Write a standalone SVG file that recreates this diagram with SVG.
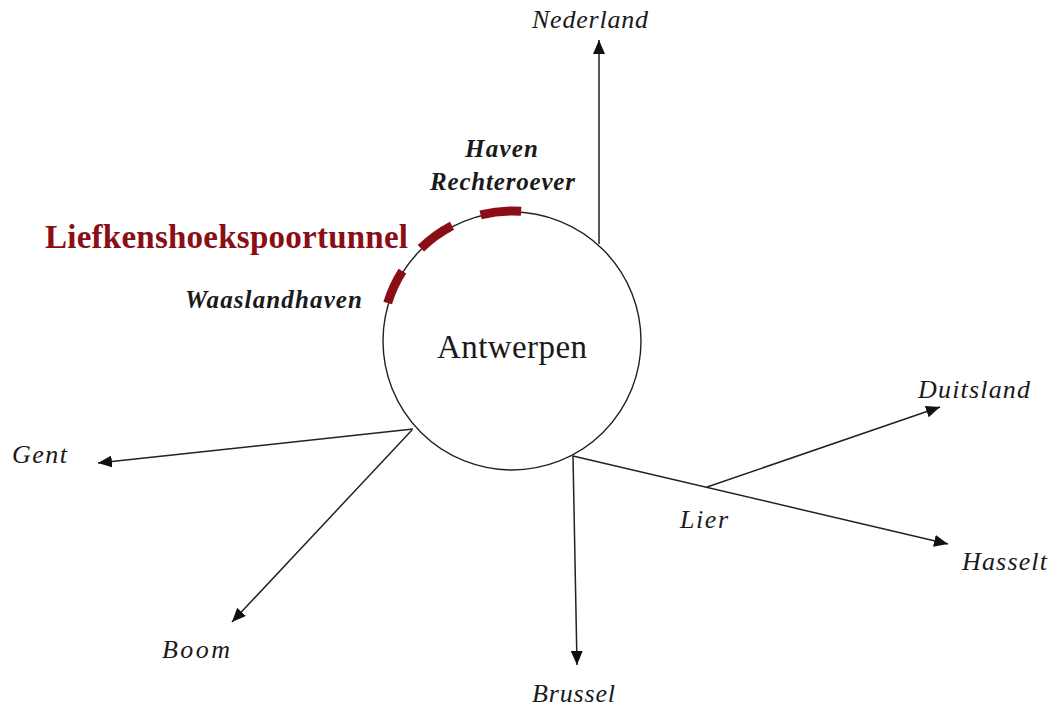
<svg xmlns="http://www.w3.org/2000/svg" width="1055" height="707" viewBox="0 0 1055 707">
<style>
.lbl{font-family:"Liberation Serif","Times New Roman",serif;font-style:italic;font-size:26px;fill:#1a1a1a}
.bi{font-family:"Liberation Serif","Times New Roman",serif;font-style:italic;font-weight:bold;font-size:25px;fill:#1a1a1a}
.edge{stroke:#222;stroke-width:1.5;fill:none;marker-end:url(#ah)}
.tun{stroke:#8b0d15;stroke-width:9;fill:none;stroke-linecap:butt}
</style>
<defs>
<marker id="ah" markerUnits="userSpaceOnUse" markerWidth="15" markerHeight="13" refX="14" refY="6" orient="auto">
<path d="M0,0 L14,6 L0,12 z" fill="#111"/>
</marker>
</defs>
<rect width="1055" height="707" fill="#fff"/>
<g id="connectors">
<line class="edge" x1="599" y1="244" x2="599" y2="40"/>
<line class="edge" x1="413" y1="429" x2="98" y2="463"/>
<line class="edge" x1="412" y1="430" x2="232" y2="622"/>
<line class="edge" x1="573" y1="456" x2="577" y2="665"/>
<line class="edge" x1="573" y1="456" x2="948" y2="544"/>
<line class="edge" x1="707" y1="487" x2="940" y2="407"/>
</g>
<g id="antwerpen">
<circle cx="512" cy="341" r="129" fill="#fff" stroke="#222" stroke-width="1.4"/>
<text x="437" y="358" textLength="150" lengthAdjust="spacing" style="font-family:'Liberation Serif','Times New Roman',serif;font-size:33px;fill:#1a1a1a">Antwerpen</text>
</g>
<g id="tunnel">
<path class="tun" d="M480.6,214.9 A130,130 0 0 1 521.1,211.3"/>
<path class="tun" d="M420.9,248.3 A130,130 0 0 1 452.0,225.7"/>
<path class="tun" d="M387.7,303.0 A130,130 0 0 1 402.4,271.2"/>
<text x="45" y="248" textLength="363" lengthAdjust="spacing" style="font-family:'Liberation Serif','Times New Roman',serif;font-weight:bold;font-size:33px;fill:#8b0d15">Liefkenshoekspoortunnel</text>
</g>
<g id="haven-rechteroever"><text class="bi" x="465" y="157" textLength="73" lengthAdjust="spacing">Haven</text><text class="bi" x="430" y="190" textLength="145" lengthAdjust="spacing">Rechteroever</text></g>
<g id="waaslandhaven"><text class="bi" x="185" y="308" font-size="24" textLength="177" lengthAdjust="spacing">Waaslandhaven</text></g>
<g id="nederland"><text class="lbl" x="532" y="28" textLength="116" lengthAdjust="spacing">Nederland</text></g>
<g id="gent"><text class="lbl" x="12" y="463" textLength="55" lengthAdjust="spacing">Gent</text></g>
<g id="boom"><text class="lbl" x="162" y="658" textLength="68" lengthAdjust="spacing">Boom</text></g>
<g id="brussel"><text class="lbl" x="532" y="702" textLength="83" lengthAdjust="spacing">Brussel</text></g>
<g id="lier"><text class="lbl" x="680" y="528" textLength="48" lengthAdjust="spacing">Lier</text></g>
<g id="duitsland"><text class="lbl" x="918" y="398" textLength="112" lengthAdjust="spacing">Duitsland</text></g>
<g id="hasselt"><text class="lbl" x="962" y="570" textLength="85" lengthAdjust="spacing">Hasselt</text></g>
</svg>
